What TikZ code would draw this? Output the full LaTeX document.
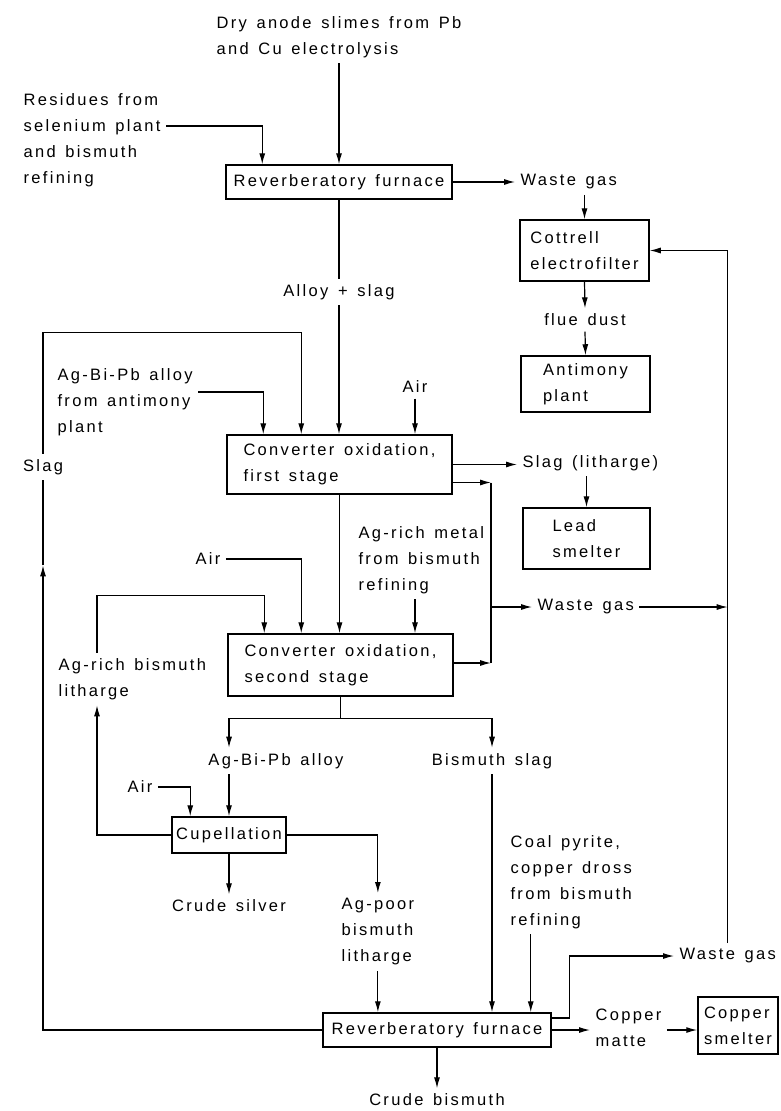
\documentclass[tikz,border=0pt]{standalone}
\usepackage{fontspec}
\setmainfont{Liberation Sans}[LetterSpace=14, WordSpace=1.4]
\usetikzlibrary{arrows.meta}

\tikzset{
  caja/.style={draw, line width=1.5pt, align=left, inner sep=3pt},
  rot/.style={align=left, inner sep=5pt},
}

\begin{document}
\begin{tikzpicture}[x=1pt, y=-1pt, >={Latex[length=11pt,width=6pt]},
    line width=1.2pt, font=\fontsize{16.5}{26}\selectfont]
  \useasboundingbox (0,0) rectangle (780,1111);

  % Cajas del proceso
  \node[caja, minimum width=226, minimum height=34] (furn1) at (339,182) {Reverberatory furnace};
  \node[caja, minimum width=129, minimum height=61] (cott) at (584.5,250.5) {Cottrell\\electrofilter};
  \node[caja, minimum width=129, minimum height=56] (antim) at (585.5,384) {Antimony\\plant};
  \node[caja, minimum width=225, minimum height=59] (conv1) at (339.5,464.5) {Converter oxidation,\\first stage};
  \node[caja, minimum width=127, minimum height=61] (lead) at (586.5,538.5) {Lead\\smelter};
  \node[caja, minimum width=225, minimum height=62] (conv2) at (340.5,665) {Converter oxidation,\\second stage};
  \node[caja, minimum width=114, minimum height=36] (cup) at (229,835) {Cupellation};
  \node[caja, minimum width=228, minimum height=34] (furn2) at (437,1030) {Reverberatory furnace};
  \node[caja, minimum width=80, minimum height=57] (csm) at (738,1025.5) {Copper\\smelter};

  % Rotulos
  \node[rot, anchor=west] (dry) at (211,37) {Dry anode slimes from Pb\\and Cu electrolysis};
  \node[rot, anchor=west] (res) at (18,140) {Residues from\\selenium plant\\and bismuth\\refining};
  \node[rot, anchor=west] (wg1) at (515,182) {Waste gas};
  \node[rot] (flue) at (585,320) {flue dust};
  \node[rot] (alloy) at (339,292) {Alloy + slag};
  \node[rot] (slag1) at (43,467) {Slag};
  \node[rot, anchor=west] (agbi1) at (52,402) {Ag-Bi-Pb alloy\\from antimony\\plant};
  \node[rot] (air1) at (415,387) {Air};
  \node[rot, anchor=west] (slagl) at (517,463) {Slag (litharge)};
  \node[rot, anchor=west] (agrich) at (353,560) {Ag-rich metal\\from bismuth\\refining};
  \node[rot, anchor=west] (wg2) at (532,607) {Waste gas};
  \node[rot] (air2) at (208,559) {Air};
  \node[rot, anchor=west] (agrichbi) at (53,679) {Ag-rich bismuth\\litharge};
  \node[rot] (alloy2) at (276,761) {Ag-Bi-Pb alloy};
  \node[rot] (bislag) at (492,761) {Bismuth slag};
  \node[rot] (air3) at (140,787) {Air};
  \node[rot] (silver) at (229,906) {Crude silver};
  \node[rot, anchor=west] (agpoor) at (336,932) {Ag-poor\\bismuth\\litharge};
  \node[rot, anchor=west] (coal) at (505,882) {Coal pyrite,\\copper dross\\from bismuth\\refining};
  \node[rot, anchor=west] (wg3) at (674,956) {Waste gas};
  \node[rot, anchor=west] (matte) at (590,1028) {Copper\\matte};
  \node[rot] (bismuth) at (437,1100) {Crude bismuth};

  % Entradas al primer horno
  \draw[->] (furn1.north |- dry.south) -- (furn1.north);
  \draw[->] ([yshift=14pt]res.east) -| ([xshift=37pt]furn1.north west);

  % Gases y polvo
  \draw[->] (furn1.east) -- (wg1.west);
  \draw[->] (cott.north |- wg1.south) -- (cott.north);
  \draw[->] (cott.south) -- (flue.north);
  \draw[->] (flue.south) -- (antim.north);

  % Primera etapa
  \draw (furn1.south) -- (alloy.north);
  \draw[->] (alloy.south) -- (alloy.south |- conv1.north);
  \draw[->] (slag1.north) |- ([xshift=75pt,yshift=102pt]conv1.north west)
        -- ([xshift=75pt]conv1.north west);
  \draw[->] ([yshift=10pt]agbi1.east) -| ([xshift=37pt]conv1.north west);
  \draw[->] (air1.south) -- (air1.south |- conv1.north);
  \draw[->] (conv1.east) -- (conv1.east -| slagl.west);
  \draw[->] (slagl.south -| lead.north) -- (lead.north);

  % Colector de gases
  \coordinate (bus) at (491,607);
  \draw[->] ([yshift=-18pt]conv1.east) -- ([yshift=-18pt]conv1.east -| bus);
  \draw[->] ([yshift=2pt]conv2.east) -- ([yshift=2pt]conv2.east -| bus);
  \draw ([yshift=-18pt]conv1.east -| bus) -- ([yshift=2pt]conv2.east -| bus);
  \draw[->] (bus) -- (wg2.west);
  \draw[->] (wg2.east) -- (wg2.east -| wg3.north);
  \draw[->] (wg3.north) |- (cott.east);

  % Segunda etapa
  \draw[->] (conv1.south) -- (conv1.south |- conv2.north);
  \draw[->] (agrich.south -| air1) -- (conv2.north -| air1);
  \draw[->] (air2.east) -| ([xshift=74pt]conv2.north west);
  \draw[->] ([xshift=44pt]agrichbi.north west) |- ([xshift=37pt,yshift=38pt]conv2.north west)
        -- ([xshift=37pt]conv2.north west);

  % Copelacion
  \coordinate (split) at ([yshift=-22pt]conv2.south);
  \draw (conv2.south) -- (split);
  \draw[->] (split) -| (cup.north |- alloy2.north);
  \draw[->] (split) -| (bislag.north);
  \draw[->] (cup.north |- alloy2.south) -- (cup.north);
  \draw[->] (air3.east) -| ([xshift=19pt]cup.north west);
  \draw[->] (cup.south) -- (silver.north);
  \draw[->] (cup.west) -| ([xshift=44pt]agrichbi.south west);
  \draw[->] (cup.east) -| (agpoor.north);

  % Horno final
  \draw[->] (agpoor.south) -- (agpoor.south |- furn2.north);
  \draw[->] (bislag.south) -- (bislag.south |- furn2.north);
  \draw[->] ([xshift=-21pt]furn2.north east |- coal.south) -- ([xshift=-21pt]furn2.north east);
  \draw[->] ([yshift=12pt]furn2.east) -- ++(18,0) |- (wg3.west);
  \draw[->] (furn2.east) -- (furn2.east -| matte.west);
  \draw[->] (furn2.east -| matte.east) -- (furn2.east -| csm.west);
  \draw[->] (furn2.south) -- (bismuth.north);
  \draw[->] (furn2.west) -| ([yshift=-85pt]slag1.south);
  \draw ([yshift=-85pt]slag1.south) -- (slag1.south);
\end{tikzpicture}
\end{document}
